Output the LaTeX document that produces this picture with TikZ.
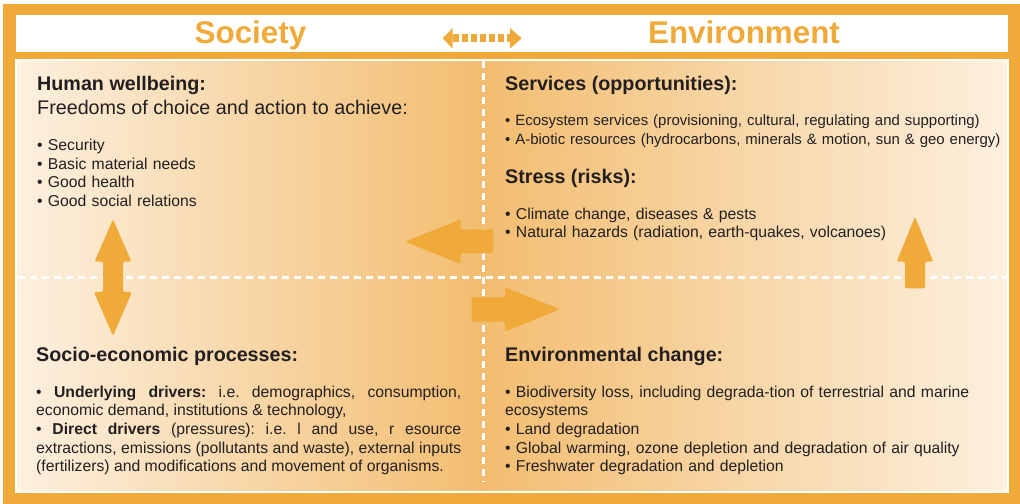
\documentclass[tikz,border=0pt]{standalone}
\usepackage{fontspec}
\setmainfont{Liberation Sans}
\usetikzlibrary{calc,positioning}
\definecolor{frameorange}{RGB}{240,170,58}
\definecolor{panellight}{RGB}{252,240,223}
\definecolor{panelmid}{RGB}{243,189,112}
\definecolor{inktext}{RGB}{35,31,32}
\tikzset{
  headline/.style={
    anchor=base,
    inner sep=0pt,
    text=frameorange,
    font=\fontsize{31.5}{36}\selectfont\bfseries},
  boxtitle/.style={
    anchor=base west,
    inner sep=0pt,
    text=inktext,
    font=\fontsize{19.8}{24}\selectfont\bfseries},
  boxsub/.style={boxtitle, font=\fontsize{19.8}{24}\selectfont},
  bulletlist/.style={
    anchor=base west,
    inner sep=0pt,
    text=inktext,
    text width=560bp,
    align=left,
    font=\fontsize{15.8}{18.7}\selectfont\frenchspacing},
  blockarrow/.style={fill=frameorange, rounded corners=2bp},
  splitline/.style={draw=white, line width=3.5bp, dash pattern=on 7bp off 5bp},
}

\begin{document}
\begin{tikzpicture}[x=1bp, y=-1bp]

    \useasboundingbox (0,0) rectangle (1020,504);
    \fill[white] (0,0) rectangle (1020,504);

    % frame and header band
    \fill[frameorange] (3,4) rectangle (1020,504);
    \fill[white] (16,15) rectangle (1008,52);

    \node[headline] (society) at (250.5,43.3) {Society};
    \node[headline] (environment) at (744,43.3) {Environment};

    \coordinate (linkL) at (442.7,38.3);
    \coordinate (linkR) at (521.7,38.3);
    \fill[frameorange] (linkL) -- ++(10,-10.3) -- ++(0,20.6) -- cycle;
    \fill[frameorange] (linkR) -- ++(-11.7,-10.3) -- ++(0,20.6) -- cycle;
    \draw[frameorange, line width=8bp, dash pattern=on 6.5bp off 2.5bp]
        ($(linkL)+(10,0)$) -- ($(linkR)+(-11,0)$);

    % the four quadrants
    \shade[left color=panellight, right color=panelmid] (16,60) rectangle (483.5,492);
    \shade[left color=panelmid, right color=panellight] (483.5,60) rectangle (1008,492);
    \draw[white, line width=1.5bp] (16,60) rectangle (1008,492);

    \draw[splitline] (483.5,61) -- (483.5,482);
    \draw[splitline] (18,277.5) -- (1006,277.5);

    % top left
    \node[boxtitle] (wellbeing) at (37,90.7) {Human wellbeing:};
    \node[boxsub] (freedoms) at (37,115) {Freedoms of choice and action to achieve:};
    \node[bulletlist] (needs) at (37,150.7) {%
        • Security\\
        • Basic material needs\\
        • Good health\\
        • Good social relations};

    % top right
    \node[boxtitle] (services) at (505,90.7) {Services (opportunities):};
    \node[bulletlist, font=\fontsize{15.0}{18.6}\selectfont] (servlist) at (505,125.7) {%
        • Ecosystem services (provisioning, cultural, regulating and supporting)\\
        • A-biotic resources (hydrocarbons, minerals \& motion, sun \& geo energy)};
    \node[boxtitle] (stress) at (505,184) {Stress (risks):};
    \node[bulletlist] (stresslist) at (505,219.3) {%
        • Climate change, diseases \& pests\\
        • Natural hazards (radiation, earth-quakes, volcanoes)};

    % bottom left
    \node[boxtitle] (socio) at (36,361.7) {Socio-economic processes:};
    \node[bulletlist, text width=425bp, align=justify] (drivers) at (36,397.3) {%
        • \textbf{Underlying drivers:} i.e. demographics, consumption,\linebreak
        economic demand, institutions \& technology,\\
        • \textbf{Direct drivers} (pressures): i.e. l and use, r esource\linebreak
        extractions, emissions (pollutants and waste), external inputs\linebreak
        (fertilizers) and modifications and movement of organisms.};

    % bottom right
    \node[boxtitle] (envchange) at (505,361.7) {Environmental change:};
    \node[bulletlist] (changelist) at (505,397.3) {%
        • Biodiversity loss, including degrada-tion of terrestrial and marine\\
        ecosystems\\
        • Land degradation\\
        • Global warming, ozone depletion and degradation of air quality\\
        • Freshwater degradation and depletion};

    % block arrows
    \fill[blockarrow] (113,219.3) -- (131.5,261.7) -- (123,261.7) -- (123,292)
        -- (132,292) -- (113,336) -- (94,292) -- (103,292) -- (103,261.7)
        -- (94.5,261.7) -- cycle;
    \fill[blockarrow] (405,241.7) -- (460.7,219.3) -- (460.7,229.3) -- (493.3,229.3)
        -- (493.3,253.3) -- (460.7,253.3) -- (460.7,264) -- cycle;
    \fill[blockarrow] (471.7,297.3) -- (505,297.3) -- (505,287.3) -- (560,309.3)
        -- (505,331.7) -- (505,321.7) -- (471.7,321.7) -- cycle;
    \fill[blockarrow] (915,216.7) -- (933.3,261.7) -- (925,261.7) -- (925,288.3)
        -- (905,288.3) -- (905,261.7) -- (896.7,261.7) -- cycle;

\end{tikzpicture}
\end{document}
